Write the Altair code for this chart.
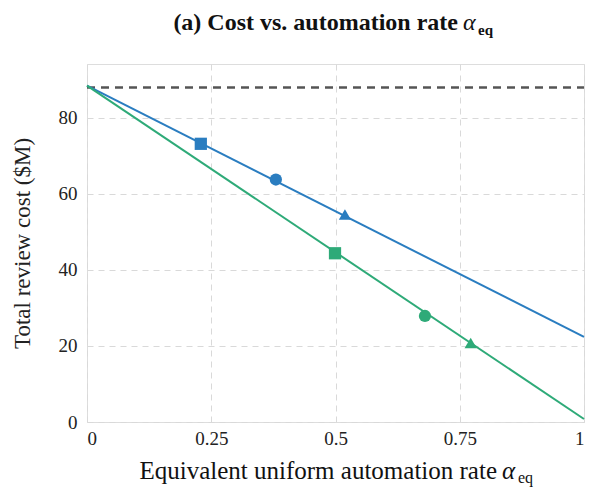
import altair as alt
import pandas as pd

# ---- data ----
alpha_ends = [0.0, 1.0]
blue_line = [88.5, 22.4]
green_line = [88.5, 0.8]
baseline_cost = 88.0

blue_mx = [0.229, 0.38, 0.519]
blue_my = [73.2, 63.8, 54.6]
green_mx = [0.499, 0.68, 0.772]
green_my = [44.4, 27.9, 20.8]
marker_shapes = ["square", "circle", "triangle-up"]

x_ticks = [0, 0.25, 0.5, 0.75, 1]
y_ticks = [0, 20, 40, 60, 80]

BLUE = "#2a7dc0"
BLUE_M = "#1c6db3"
GREEN = "#2eaa78"
GREEN_M = "#1f9e6a"
FONT = "Liberation Serif"

lines = pd.DataFrame({
    "a": alpha_ends * 2,
    "c": blue_line + green_line,
    "s": ["blue"] * 2 + ["green"] * 2,
})
marks = pd.DataFrame({
    "a": blue_mx + green_mx,
    "c": blue_my + green_my,
    "s": ["blue"] * 3 + ["green"] * 3,
    "shape": marker_shapes * 2,
})
base_df = pd.DataFrame({"a": alpha_ends, "c": [baseline_cost] * 2})

xs = alt.Scale(domain=[0, 1], nice=False, zero=False)
ys = alt.Scale(domain=[0, 94.2], nice=False)
color = alt.Scale(domain=["blue", "green"], range=[BLUE, GREEN])
mcolor = alt.Scale(domain=["blue", "green"], range=[BLUE_M, GREEN_M])

xaxis = alt.Axis(values=x_ticks, title=None, labelFont=FONT, labelFontSize=19,
                 labelColor="#222", labelPadding=7, ticks=False, domain=False,
                 grid=True, gridDash=[6, 5], gridColor="#d9d9d9",
                 labelExpr="datum.value == 0 ? '0' : datum.value == 1 ? '1' : format(datum.value, '')")
yaxis = alt.Axis(values=y_ticks, title="Total review cost ($M)", titleFont=FONT,
                 titleFontSize=23, titleFontWeight="normal", titleColor="#222",
                 titlePadding=24, labelFont=FONT, labelFontSize=19, labelColor="#222",
                 labelPadding=10, ticks=False, domain=False,
                 grid=True, gridDash=[6, 5], gridColor="#d9d9d9")

ref = alt.Chart(base_df).mark_line(color="#555", strokeDash=[8, 6], strokeWidth=2.5).encode(
    x=alt.X("a:Q", scale=xs, axis=xaxis),
    y=alt.Y("c:Q", scale=ys, axis=yaxis),
)
ln = alt.Chart(lines).mark_line(strokeWidth=2).encode(
    x=alt.X("a:Q", scale=xs),
    y=alt.Y("c:Q", scale=ys),
    color=alt.Color("s:N", scale=color, legend=None),
    detail="s:N",
)
pts = alt.Chart(marks).mark_point(filled=True, size=150, opacity=1).encode(
    x=alt.X("a:Q", scale=xs),
    y=alt.Y("c:Q", scale=ys),
    color=alt.Color("s:N", scale=mcolor, legend=None),
    shape=alt.Shape("shape:N", scale=alt.Scale(domain=marker_shapes, range=marker_shapes), legend=None),
)

# titles with subscript
t_df = pd.DataFrame({"k": [0]})
def txt(text, x, y, size, weight="normal", align="left", style="normal"):
    return alt.Chart(t_df).mark_text(text=text, font=FONT, fontSize=size, fontWeight=weight,
                                      align=align, baseline="alphabetic", fontStyle=style,
                                      color="#111").encode(x=alt.value(x), y=alt.value(y))

title_parts = [
    txt("(a) Cost vs. automation rate", 371, -34, 24, "bold", "right"),
    txt("α", 376, -34, 24, "normal", "left", "italic"),
    txt("eq", 391, -29, 15, "bold", "left"),
]
xt_parts = [
    txt("Equivalent uniform automation rate", 410, 415, 25, "normal", "right"),
    txt("α", 415, 415, 25, "normal", "left", "italic"),
    txt("eq", 431, 419, 16, "normal", "left"),
]

chart = alt.layer(ref, ln, pts, *title_parts, *xt_parts).properties(
    width=497, height=358,
    autosize=alt.AutoSizeParams(type="none"),
    padding={"left": 79, "top": 56, "right": 10, "bottom": 66},
).configure_view(stroke="#444", strokeWidth=1.5).configure(background="white")

chart.save("out.html", embed_options={"renderer": "svg", "actions": False})
